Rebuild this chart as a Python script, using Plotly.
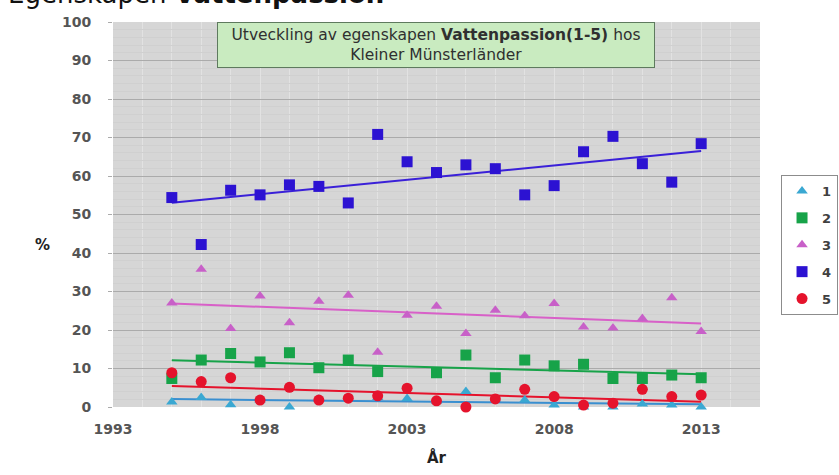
import numpy as np
import plotly.graph_objects as go

years = list(range(1995, 2014))

# Andel (%) per nivå 1-5
s1 = [1.3, 2.5, 0.6, 1.8, 0.0, 2.0, 2.0, 2.5, 2.2, 1.5, 4.0, 2.0, 1.8, 0.5, 0.0, 0.0, 0.8, 0.5, 0.0]
s2 = [7.4, 12.2, 13.9, 11.7, 14.1, 10.2, 12.2, 9.2, None, 8.9, 13.5, 7.6, 12.2, 10.7, 11.1, 7.4, 7.4, 8.3, 7.6]
s3 = [27.0, 35.8, 20.4, 28.8, 21.9, 27.5, 29.0, 14.2, 23.8, 26.2, 19.1, 25.1, 23.7, 26.9, 20.8, 20.5, 23.0, 28.4, 19.6]
s4 = [54.4, 42.2, 56.3, 55.1, 57.7, 57.3, 53.0, 70.8, 63.7, 60.9, 62.9, 61.9, 55.1, 57.5, 66.3, 70.3, 63.2, 58.4, 68.4]
s5 = [8.9, 6.6, 7.6, 1.8, 5.1, 1.8, 2.3, 2.9, 4.9, 1.6, 0.0, 2.1, 4.6, 2.7, 0.5, 1.0, 4.6, 2.7, 3.1]

series_names = ["1", "2", "3", "4", "5"]
series_vals = [s1, s2, s3, s4, s5]
colors = ["#3AA8D2", "#17A349", "#C860C8", "#2C12D2", "#E5132C"]
line_colors = ["#3A8FD0", "#17A349", "#D860C8", "#3A20D8", "#E5132C"]
symbols = ["triangle-up", "square", "triangle-up", "square", "circle"]
sizes = [10, 11, 10, 11, 11]

x_ticks = [1993, 1998, 2003, 2008, 2013]

fig = go.Figure()

# Trendlines (linear fit of each series)
for name, vals, lc in zip(series_names, series_vals, line_colors):
    xs = np.array([y for y, v in zip(years, vals) if v is not None], dtype=float)
    ys = np.array([v for v in vals if v is not None], dtype=float)
    k, m = np.polyfit(xs, ys, 1)
    xl = np.array([years[0], years[-1]], dtype=float)
    fig.add_trace(go.Scatter(x=xl, y=k * xl + m, mode="lines",
                             line=dict(color=lc, width=2),
                             showlegend=False, hoverinfo="skip"))

for i, (name, vals, c, sym, sz) in enumerate(zip(series_names, series_vals, colors, symbols, sizes)):
    fig.add_trace(go.Scatter(x=years, y=vals, mode="markers", name=name,
                             legendgroup=name,
                             marker=dict(color=c, symbol=sym, size=sz, line=dict(width=0)),
                             cliponaxis=False))

font_fam = "DejaVu Sans"

fig.update_layout(
    width=839, height=475,
    margin=dict(l=113, r=79, t=22, b=68, autoexpand=False),
    paper_bgcolor="white",
    plot_bgcolor="#D6D6D6",
    font=dict(family=font_fam, size=13, color="#505050"),
    showlegend=True,
    legend=dict(x=1.0325, y=0.6026, xanchor="left", yanchor="top",
                bordercolor="#8C8C8C", borderwidth=1, bgcolor="white",
                font=dict(family=font_fam, size=13, color="#404040", weight="bold"),
                traceorder="grouped", tracegroupgap=7, itemwidth=30),
    xaxis=dict(range=[1993, 2015], tickmode="array", tickvals=x_ticks,
               ticktext=[str(t) for t in x_ticks], showgrid=True,
               gridcolor="#E2E2E2", gridwidth=1,
               minor=dict(dtick=1, tick0=1993, showgrid=True, gridcolor="#E2E2E2", gridwidth=1),
               zeroline=False, showline=False, ticks="",
               ticklabelstandoff=12,
               tickfont=dict(family=font_fam, size=14, color="#555555", weight="bold")),
    yaxis=dict(range=[0, 100], dtick=10, showgrid=True,
               gridcolor="#ABABAB", gridwidth=1,
               minor=dict(dtick=2, showgrid=True, gridcolor="#D0D0D0", gridwidth=1),
               zeroline=False, showline=False, ticks="outside", ticklen=4,
               tickcolor="#ABABAB", ticklabelstandoff=14,
               tickfont=dict(family=font_fam, size=14, color="#555555", weight="bold")),
)

# Cut-off page heading at very top
fig.add_annotation(xref="paper", yref="paper", x=-0.1654, y=1.0286,
                   xanchor="left", yanchor="bottom", showarrow=False,
                   text="Egenskapen <b>Vattenpassion</b>",
                   font=dict(family=font_fam, size=26, color="#111111"))

# Chart title box
fig.add_annotation(xref="paper", yref="paper", x=0.4992, y=0.939,
                   xanchor="center", yanchor="middle", showarrow=False,
                   text="Utveckling av egenskapen <b>Vattenpassion(1-5)</b> hos<br>Kleiner Münsterländer",
                   font=dict(family=font_fam, size=15.5, color="#303030"),
                   bgcolor="#C9EBC0", bordercolor="#5E7A5E", borderwidth=1, borderpad=1,
                   width=434, height=42, align="center")

# Axis titles
fig.add_annotation(xref="paper", yref="paper", x=-0.1097, y=0.4208,
                   xanchor="center", yanchor="middle", showarrow=False,
                   text="<b>%</b>", font=dict(family=font_fam, size=15, color="#222222"))
fig.add_annotation(xref="paper", yref="paper", x=0.5008, y=-0.1299,
                   xanchor="center", yanchor="middle", showarrow=False,
                   text="<b>År</b>", font=dict(family=font_fam, size=15, color="#222222"))

fig.write_html("out.html",
               config={"displayModeBar": False},
               post_script="document.body.style.margin='0';document.body.style.overflow='hidden';")
